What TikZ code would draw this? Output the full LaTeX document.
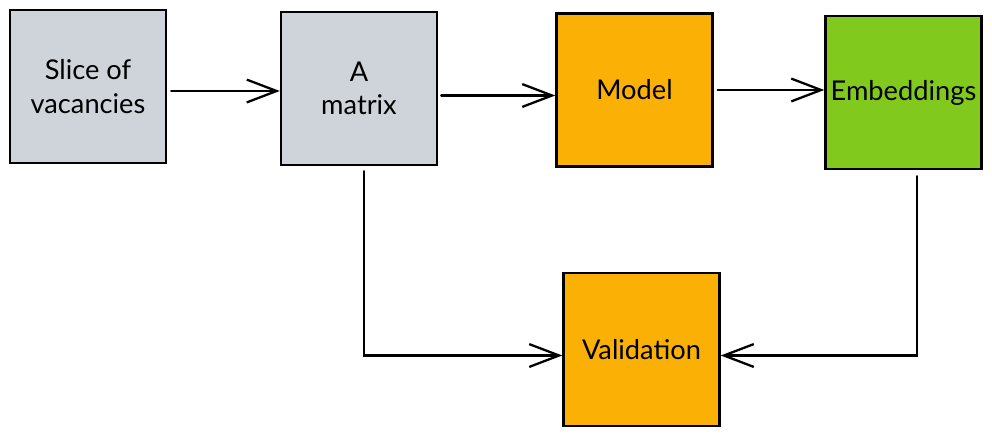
\documentclass[tikz,border=0pt]{standalone}
\usepackage{fontspec}
\setmainfont{Lato}
\usetikzlibrary{arrows.meta}
\definecolor{boxgray}{HTML}{CED4DA}
\definecolor{boxorange}{HTML}{FAB005}
\definecolor{boxgreen}{HTML}{82C91E}
\tikzset{
  block/.style={draw, line width=1.4pt, minimum width=3.12cm, minimum height=3.06cm,
    inner sep=0pt, align=center, font=\fontsize{15.5}{19}\selectfont},
  flow/.style={line width=1.3pt, line cap=round,
    -{Straight Barb[length=17pt,width=13pt,line width=1.3pt]}}
}
\begin{document}
\begin{tikzpicture}[x=0.02cm, y=-0.02cm]
\useasboundingbox (0,0) rectangle (992,437);

\node [block, fill=boxgray] (slice) at (88,86.5) {Slice of\\vacancies};
\node [block, fill=boxgray] (amat) at (359,88.5) {A\\matrix};
\node [block, fill=boxorange] (model) at (634.5,90) {Model};
\node [block, fill=boxgreen] (emb) at (903.5,92.5) {Embeddings};
\node [block, fill=boxorange] (valid) at (641.5,349.5) {Validation};

\draw [flow] ([xshift=0.08cm,yshift=-0.09cm]slice.east) -- ([yshift=-0.09cm]slice.east -| amat.west);
\draw [flow] ([xshift=0.06cm,yshift=-0.14cm]amat.east) -- ([yshift=-0.14cm]amat.east -| model.west);
\draw [flow] ([xshift=0.08cm]model.east) -- (model.east -| emb.west);

\draw [flow] ([xshift=0.1cm,yshift=-0.1cm]amat.south) |- ([yshift=-0.12cm]valid.west);
\draw [flow] ([xshift=0.27cm,yshift=-0.12cm]emb.south) |- ([yshift=-0.12cm]valid.east);
\end{tikzpicture}
\end{document}
